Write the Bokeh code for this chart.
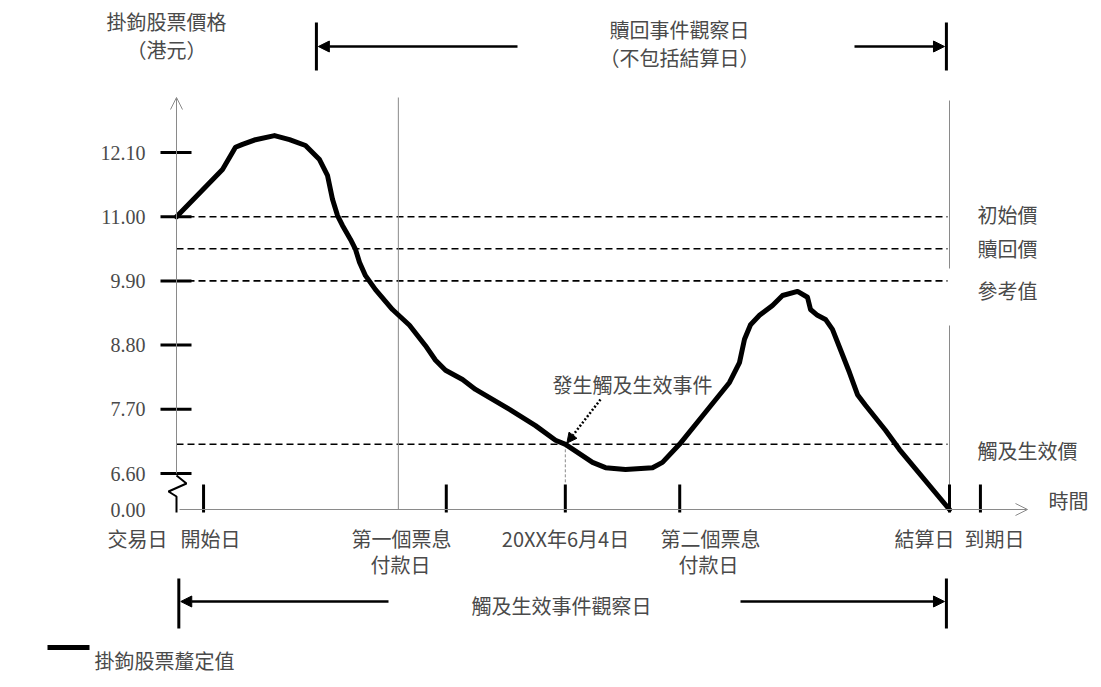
from bokeh.plotting import figure
from bokeh.models import Range1d, Arrow, OpenHead, NormalHead
from bokeh.core.properties import value
from bokeh.embed import file_html
from bokeh.resources import INLINE

# ---------------- data ----------------
# time axis: 0 = trade date (y axis), 100 = settlement date
curve_time = [0.0, 5.95, 7.63, 8.54, 10.22, 12.68, 14.62, 16.69, 18.50, 19.53,
              20.18, 20.83, 21.47, 22.51, 23.16, 23.67, 24.45, 25.74, 27.94, 30.14,
              32.21, 33.51, 34.80, 37.00, 38.68, 43.08, 46.44, 49.03, 50.32, 53.82,
              55.50, 58.09, 61.58, 62.87, 65.07, 68.43, 71.54, 72.83, 73.48, 74.26,
              75.42, 77.10, 78.40, 80.34, 81.63, 82.02, 82.92, 83.96, 84.86, 85.90,
              87.06, 88.10, 89.13, 91.72, 93.53, 100.0]
curve_price = [11.00, 11.81, 12.19, 12.24, 12.32, 12.39, 12.32, 12.22, 11.98, 11.71,
               11.30, 11.02, 10.85, 10.61, 10.44, 10.22, 9.99, 9.75, 9.41, 9.14,
               8.79, 8.54, 8.37, 8.21, 8.04, 7.70, 7.42, 7.17, 7.10, 6.79,
               6.70, 6.67, 6.70, 6.79, 7.10, 7.65, 8.16, 8.50, 8.90, 9.15,
               9.31, 9.48, 9.65, 9.72, 9.62, 9.41, 9.31, 9.24, 9.07, 8.72,
               8.33, 7.95, 7.77, 7.34, 7.01, 0.00]

y_ticks = [0.0, 6.6, 7.7, 8.8, 9.9, 11.0, 12.1]
y_tick_labels = ["0.00", "6.60", "7.70", "8.80", "9.90", "11.00", "12.10"]

level_names = ["初始價", "贖回價", "參考值", "觸及生效價"]
level_values = [11.00, 10.45, 9.90, 7.10]

date_ticks = [3.5, 34.9, 50.3, 65.1, 100.0, 104.0]
date_labels = ["交易日", "開始日", "第一個票息", "20XX年6月4日", "第二個票息", "結算日", "到期日"]
date_labels_2 = ["付款日", "付款日"]

first_coupon_line = 28.7
settlement_date = 100.0
trigger_date = 50.3
trigger_price = 7.10
redemption_obs = [18.1, 99.6]
trigger_obs = [0.3, 99.6]

# ---------------- layout helpers (pixel layout -> plot units) ----------------
FIG_W, FIG_H = 1090, 678
OX, OY = 8, 8
AX_PX, PX_PER_T = 184.0, 7.73
REF_PY, PX_PER_P = 481.0, 58.36


def sx(px):
    return (px - AX_PX) / PX_PER_T


def sy(py):
    return 6.6 + (REF_PY - py) / PX_PER_P


AXIS_ZERO = sy(517)


def disp(price):
    # broken axis: 0.00 sits just below 6.60
    if price >= 6.6:
        return price
    return AXIS_ZERO + price / 6.6 * (6.6 - AXIS_ZERO)


CJK = value("Noto Sans CJK TC")
SERIF = value("Liberation Serif")
TXT = "#4a4a4a"
GREY = "#8a8a8a"
FS = value("20px")

p = figure(width=FIG_W, height=FIG_H, output_backend="svg", toolbar_location=None,
           x_range=Range1d(sx(OX), sx(OX + FIG_W)),
           y_range=Range1d(sy(OY + FIG_H), sy(OY)),
           x_axis_type=None, y_axis_type=None,
           min_border=0, min_border_left=0, min_border_right=0,
           min_border_top=0, min_border_bottom=0)
p.outline_line_color = None
p.grid.visible = False
p.background_fill_color = "white"
p.border_fill_color = "white"

# dashed price levels
p.segment(x0=[0.0] * len(level_values), x1=[sx(955)] * len(level_values),
          y0=level_values, y1=level_values, line_color="black",
          line_width=1.6, line_dash="7 4")

# thin vertical reference lines
p.segment(x0=[first_coupon_line], x1=[first_coupon_line], y0=[sy(105)], y1=[AXIS_ZERO],
          line_color=GREY, line_width=1)
p.segment(x0=[settlement_date, settlement_date], x1=[settlement_date, settlement_date],
          y0=[sy(108), sy(333)], y1=[sy(276), AXIS_ZERO],
          line_color=GREY, line_width=1)

# dotted drop line from the trigger event
p.segment(x0=[trigger_date], x1=[trigger_date], y0=[trigger_price], y1=[sy(492)],
          line_color=GREY, line_width=1, line_dash="3 2")

# y axis with arrow
p.add_layout(Arrow(end=OpenHead(size=12, line_color=GREY, line_width=1),
                   x_start=0, y_start=6.6, x_end=0, y_end=sy(105),
                   line_color=GREY, line_width=1))
# axis break zigzag
p.line(x=[0, sx(194), sx(176), sx(184), sx(184)],
       y=[sy(483), sy(491), sy(499), sy(504), sy(520)],
       line_color="black", line_width=2)
# x axis with arrow
p.add_layout(Arrow(end=OpenHead(size=12, line_color=GREY, line_width=1),
                   x_start=sx(187), y_start=AXIS_ZERO, x_end=sx(1035), y_end=AXIS_ZERO,
                   line_color=GREY, line_width=1))

# y ticks (crossing the axis) and labels
nz = [t for t in y_ticks if t > 0]
p.segment(x0=[sx(168)] * len(nz), x1=[sx(199)] * len(nz), y0=nz, y1=nz,
          line_color="black", line_width=3)
p.text(x=[sx(153)] * len(y_ticks), y=[disp(t) for t in y_ticks], text=y_tick_labels,
       text_font=SERIF, text_font_size=FS, text_color=TXT,
       text_align="right", text_baseline="middle")

# x ticks
p.segment(x0=date_ticks, x1=date_ticks, y0=[sy(492)] * len(date_ticks),
          y1=[sy(520)] * len(date_ticks), line_color="black", line_width=3)

# underlying price path
p.line(x=curve_time, y=[disp(v) for v in curve_price], line_color="black",
       line_width=5, line_join="round", line_cap="round")

# x labels
lab_px = [145, 218, 409, 573, 718, 932, 1002]
p.text(x=[sx(v) for v in lab_px], y=[sy(546)] * len(lab_px), text=date_labels,
       text_font=CJK, text_font_size=FS, text_color=TXT,
       text_align="center", text_baseline="middle")
p.text(x=[sx(408), sx(716)], y=[sy(572)] * 2, text=date_labels_2,
       text_font=CJK, text_font_size=FS, text_color=TXT,
       text_align="center", text_baseline="middle")
p.text(x=[sx(1056)], y=[sy(508)], text=["時間"], text_font=CJK,
       text_font_size=FS, text_color=TXT, text_align="left",
       text_baseline="middle")

# level labels on the right
lab_off = [-2, 0, 10, 6]
p.text(x=[sx(985)] * len(level_names),
       y=[v - o / PX_PER_P for v, o in zip(level_values, lab_off)], text=level_names,
       text_font=CJK, text_font_size=FS, text_color=TXT,
       text_align="left", text_baseline="middle")

# y axis title
p.text(x=[sx(174), sx(174)], y=[sy(29), sy(57)], text=["掛鉤股票價格", "（港元）"],
       text_font=CJK, text_font_size=FS, text_color=TXT,
       text_align="center", text_baseline="middle")

# redemption observation period (top)
p.segment(x0=redemption_obs, x1=redemption_obs, y0=[sy(30)] * 2, y1=[sy(78)] * 2,
          line_color="black", line_width=3)
p.add_layout(Arrow(end=NormalHead(size=11, fill_color="black", line_color="black"),
                   x_start=sx(525), y_start=sy(54), x_end=redemption_obs[0] + 0.25,
                   y_end=sy(54), line_color="black", line_width=2.5))
p.add_layout(Arrow(end=NormalHead(size=11, fill_color="black", line_color="black"),
                   x_start=sx(862), y_start=sy(54), x_end=redemption_obs[1] - 0.25,
                   y_end=sy(54), line_color="black", line_width=2.5))
p.text(x=[sx(687), sx(687)], y=[sy(37), sy(65)], text=["贖回事件觀察日", "（不包括結算日）"],
       text_font=CJK, text_font_size=FS, text_color=TXT,
       text_align="center", text_baseline="middle")

# trigger observation period (bottom)
p.segment(x0=trigger_obs, x1=trigger_obs, y0=[sy(586)] * 2, y1=[sy(636)] * 2,
          line_color="black", line_width=3)
p.add_layout(Arrow(end=NormalHead(size=11, fill_color="black", line_color="black"),
                   x_start=sx(396), y_start=sy(609), x_end=trigger_obs[0] + 0.25,
                   y_end=sy(609), line_color="black", line_width=2.5))
p.add_layout(Arrow(end=NormalHead(size=11, fill_color="black", line_color="black"),
                   x_start=sx(748), y_start=sy(609), x_end=trigger_obs[1] - 0.25,
                   y_end=sy(609), line_color="black", line_width=2.5))
p.text(x=[sx(569)], y=[sy(613)], text=["觸及生效事件觀察日"],
       text_font=CJK, text_font_size=FS, text_color=TXT,
       text_align="center", text_baseline="middle")

# trigger event annotation
p.add_layout(Arrow(end=NormalHead(size=10, fill_color="black", line_color="black"),
                   x_start=sx(608), y_start=sy(407), x_end=trigger_date + 0.2,
                   y_end=trigger_price + 0.02, line_color="black", line_width=2.5,
                   line_dash="2 2"))
p.text(x=[sx(640)], y=[sy(392)], text=["發生觸及生效事件"],
       text_font=CJK, text_font_size=FS, text_color=TXT,
       text_align="center", text_baseline="middle")

# legend
p.segment(x0=[sx(55)], x1=[sx(97)], y0=[sy(655)], y1=[sy(655)],
          line_color="black", line_width=5)
p.text(x=[sx(102)], y=[sy(668)], text=["掛鉤股票釐定值"],
       text_font=CJK, text_font_size=FS, text_color=TXT,
       text_align="left", text_baseline="middle")

open("out.html", "w").write(file_html(p, INLINE))
